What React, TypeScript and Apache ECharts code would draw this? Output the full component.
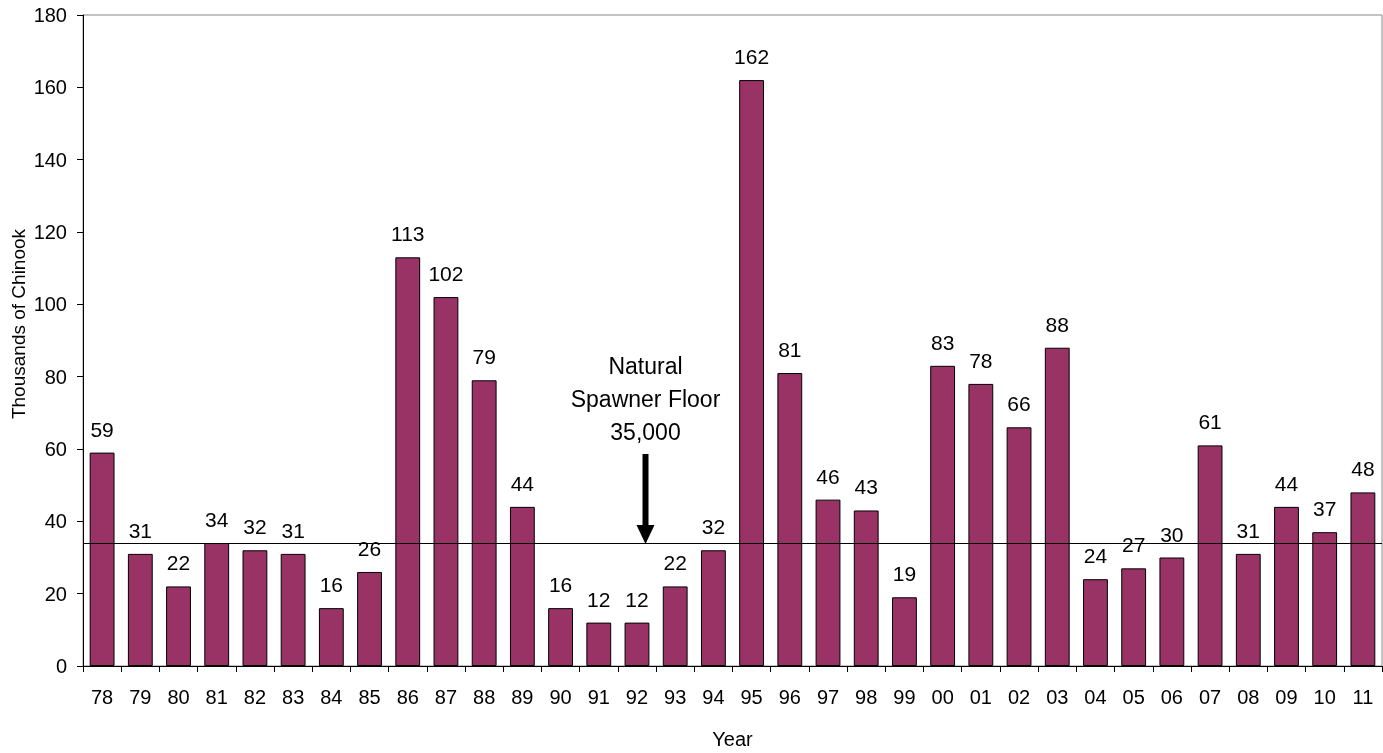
import React, { useEffect, useRef } from "react";
import * as echarts from "echarts";

const years = ["78","79","80","81","82","83","84","85","86","87","88","89","90","91","92","93","94","95","96","97","98","99","00","01","02","03","04","05","06","07","08","09","10","11"];
const chinook = [59,31,22,34,32,31,16,26,113,102,79,44,16,12,12,22,32,162,81,46,43,19,83,78,66,88,24,27,30,61,31,44,37,48];
const floorValue = 34;
const yTicks = { min: 0, max: 180, interval: 20 };
const noteLines = ["Natural", "Spawner Floor", "35,000"];
const yAxisTitle = "Thousands of Chinook";

export default function App() {
  const ref = useRef<HTMLDivElement>(null);
  useEffect(() => {
    document.body.style.margin = "0";
    const chart = echarts.init(ref.current!, undefined, { renderer: "svg" });
    const font = "Liberation Sans, Arial, sans-serif";
    const ax = 645.5;
    chart.setOption({
      animation: false,
      textStyle: { fontFamily: font },
      grid: {
        left: 83, right: 1, top: 15, bottom: 87,
        show: true, borderColor: "#888", borderWidth: 1,
        containLabel: false, outerBoundsMode: "none",
      },
      xAxis: {
        type: "category",
        data: years,
        name: "Year",
        nameLocation: "middle",
        nameGap: 63,
        nameTextStyle: { fontSize: 20, color: "#000", fontFamily: font },
        axisLine: { lineStyle: { color: "#000", width: 1 } },
        axisTick: { show: true, alignWithLabel: false, length: 6, lineStyle: { color: "#000" } },
        axisLabel: { color: "#000", fontSize: 20, margin: 21, fontFamily: font },
      },
      yAxis: {
        type: "value",
        min: yTicks.min,
        max: yTicks.max,
        interval: yTicks.interval,
        axisLine: { show: true, lineStyle: { color: "#000", width: 1 } },
        axisTick: { show: true, length: 6, lineStyle: { color: "#000" } },
        axisLabel: { color: "#000", fontSize: 20, margin: 16, fontFamily: font },
        splitLine: { show: false },
      },
      series: [
        {
          type: "bar",
          data: chinook,
          barCategoryGap: "35%",
          itemStyle: { color: "#993366", borderColor: "#000", borderWidth: 1 },
          label: { show: true, position: "top", distance: 13, color: "#000", fontSize: 21, fontFamily: font },
          markLine: {
            silent: true,
            symbol: ["none", "none"],
            label: { show: false },
            lineStyle: { color: "#000", width: 1, type: "solid" },
            data: [{ yAxis: floorValue }],
          },
        },
      ],
      graphic: [
        {
          type: "text",
          x: 18,
          y: 324,
          rotation: Math.PI / 2,
          style: { text: yAxisTitle, fill: "#000", fontSize: 19, fontFamily: font, textAlign: "center", textVerticalAlign: "middle" },
        },
        ...noteLines.map((t, i) => ({
          type: "text",
          x: ax,
          y: 366 + i * 33,
          style: { text: t, fill: "#000", fontSize: 23, fontFamily: font, textAlign: "center", textVerticalAlign: "middle" },
        })),
        { type: "rect", shape: { x: ax - 3, y: 454, width: 6, height: 73 }, style: { fill: "#000" } },
        { type: "polygon", shape: { points: [[ax - 9, 525], [ax + 9, 525], [ax, 544]] }, style: { fill: "#000" } },
      ],
    });
    return () => chart.dispose();
  }, []);
  return <div ref={ref} style={{ position: "fixed", left: 0, top: 0, width: 1383, height: 753 }} />;
}
